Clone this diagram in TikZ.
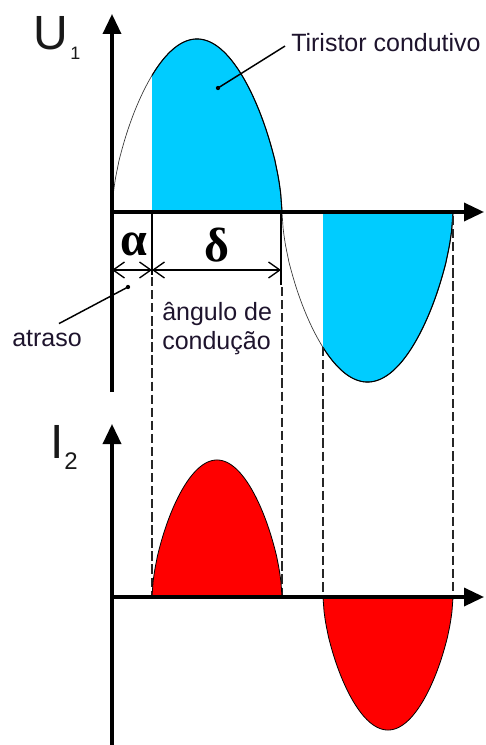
\documentclass[tikz,border=0pt]{standalone}
\usepackage{fontspec}
\setmainfont{Liberation Sans}
\newfontfamily\grk{Liberation Serif}
\usetikzlibrary{arrows.meta,calc}
\definecolor{cyanfill}{RGB}{0,204,255}
\definecolor{redfill}{RGB}{255,0,0}
\definecolor{txt}{RGB}{30,20,45}
\begin{document}
\begin{tikzpicture}[x=0.75pt,y=-0.75pt,
  declare function={ps(\t)=pow(abs(sin(\t))+0.0001,0.6);},
  axisline/.style={line width=2.6pt,-{Triangle[length=15pt,width=13.5pt]}},
  curve/.style={line width=0.5pt,black!80},
  edgecurve/.style={line width=0.8pt,black},
  dashline/.style={line width=1.2pt,black!85,dash pattern=on 7pt off 2.8pt},
  dimline/.style={line width=1pt,{Straight Barb[length=8.5pt,width=12pt]}-{Straight Barb[length=8.5pt,width=12pt]}},
  tickline/.style={line width=1.6pt},
  ptr/.style={line width=1.1pt},
  lbl/.style={inner sep=0pt,text=txt,font=\fontsize{18.75pt}{21pt}\selectfont},
  greek/.style={inner sep=0pt,font=\grk\bfseries\fontsize{36pt}{40pt}\selectfont},
  big/.style={inner sep=0pt,text=black!90,font=\fontsize{36pt}{40pt}\selectfont},
]
\useasboundingbox (0,0) rectangle (485,745);

% ---------- top plot: fills ----------
\fill[cyanfill] (152,212) -- plot[domain=152:282,samples=90] (\x,{212-173*ps((\x-112)/170*180)}) -- cycle;
\fill[cyanfill] (323,212) -- plot[domain=323:453,samples=90] (\x,{212+170*ps((\x-282)/171*180)}) -- cycle;

% ---------- top plot: curve ----------
\draw[curve] plot[domain=112:282,samples=150] (\x,{212-173*ps((\x-112)/170*180)});
\draw[curve] plot[domain=282:453,samples=150] (\x,{212+170*ps((\x-282)/171*180)});
\draw[edgecurve] plot[domain=152:282,samples=90] (\x,{212-173*ps((\x-112)/170*180)});
\draw[edgecurve] plot[domain=323:453,samples=90] (\x,{212+170*ps((\x-282)/171*180)});

% ---------- dashed guide lines ----------
\coordinate (d1t) at (152,277); \coordinate (d1b) at (152,597);
\coordinate (d2t) at (282,287); \coordinate (d2b) at (282,597);
\coordinate (d3t) at (323,347); \coordinate (d3b) at (323,597);
\coordinate (d4t) at (453,216); \coordinate (d4b) at (453,597);
\draw[dashline] (d1t) -- (d1b);
\draw[dashline] (d2t) -- (d2b);
\draw[dashline] (d3t) -- (d3b);
\draw[dashline] (d4t) -- (d4b);

% ---------- bottom plot: red humps ----------
\filldraw[fill=redfill,draw=black,line width=0.6pt] (152,597) -- plot[domain=152:282,samples=120] (\x,{597-137*ps((\x-152)/130*180)}) -- cycle;
\filldraw[fill=redfill,draw=black,line width=0.6pt] (323,597) -- plot[domain=323:453,samples=120] (\x,{597+133*ps((\x-323)/130*180)}) -- cycle;

% ---------- axes ----------
\coordinate (o1) at (112,212);
\coordinate (y1b) at (112,392); \coordinate (y1t) at (112,14);
\coordinate (x1e) at (484,212);
\draw[axisline] (y1b) -- (y1t);
\draw[axisline] (o1) -- (x1e);

\coordinate (o2) at (112,597);
\coordinate (y2b) at (112,745); \coordinate (y2t) at (112,424);
\coordinate (x2e) at (484,597);
\draw[axisline] (y2b) -- (y2t);
\draw[axisline] (o2) -- (x2e);

% ---------- ticks and dimension arrows ----------
\coordinate (t1t) at (152,214); \coordinate (t1b) at (152,275);
\coordinate (t2t) at (281,214); \coordinate (t2b) at (281,285);
\draw[tickline] (t1t) -- (t1b);
\draw[tickline] (t2t) -- (t2b);
\coordinate (a0) at (112,270); \coordinate (a1) at (152,270); \coordinate (a2) at (281,270);
\draw[dimline] (a0) -- (a1);
\draw[dimline] (a1) -- (a2);

\node[greek] (alpha) at (134,244) {α};
\node[greek] (delta) at (217,245) {δ};

% ---------- labels ----------
\node[big,anchor=base west] (U) at (33,50) {U};
\node[inner sep=0pt,text=black!90,anchor=base west,font=\fontsize{13.5pt}{15pt}\selectfont] (U1) at (70,60) {1};
\node[big,anchor=base west] (I) at (50,458) {I};
\node[inner sep=0pt,text=black!90,anchor=base west,font=\fontsize{18pt}{20pt}\selectfont] (I2) at (64,469) {2};

\node[lbl,anchor=base west] (tir) at (291,52) {Tiristor condutivo};
\coordinate (tirdot) at (218,88);
\draw[ptr] ($(tir.west)+(-6,3)$) -- (tirdot);
\fill (tirdot) circle (1.6pt);

\node[lbl,anchor=base west] (atr) at (12,346) {atraso};
\coordinate (atrdot) at (128,287);
\draw[ptr] ($(atr.north)+(12,-6)$) -- (atrdot);
\fill (atrdot) circle (1.6pt);

\node[lbl,anchor=base west] (ang1) at (162,320) {ângulo de};
\node[lbl,anchor=base west] (ang2) at (162,349) {condução};
\end{tikzpicture}
\end{document}
